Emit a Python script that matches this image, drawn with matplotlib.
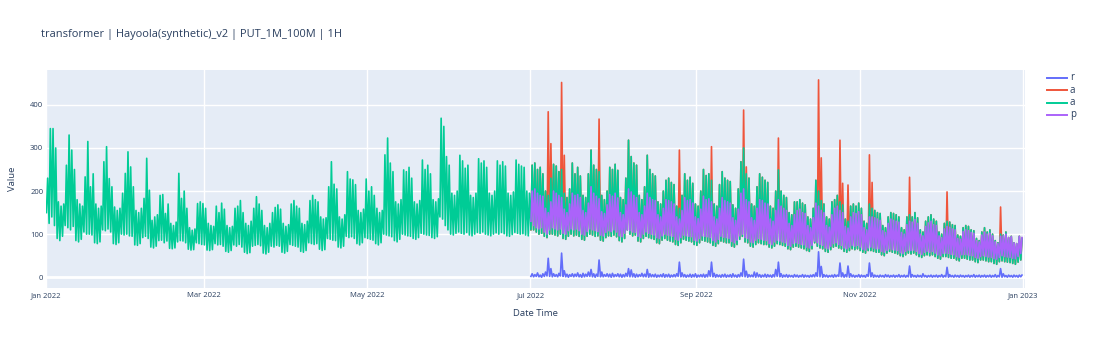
import numpy as np
import matplotlib
matplotlib.use("Agg")
import matplotlib.pyplot as plt
import matplotlib.dates as mdates
from matplotlib.lines import Line2D

# daily high / low of the series (day 0 = 2022-01-01)
actual_hi = [
    230, 345, 345, 300, 175, 165, 170,
    260, 330, 295, 250, 180, 170, 165,
    233, 315, 210, 240, 170, 160, 165,
    268, 303, 229, 210, 163, 155, 160,
    195, 241, 291, 256, 210, 155, 150,
    160, 183, 276, 202, 132, 140, 145,
    190, 192, 148, 170, 125, 120, 128,
    241, 183, 200, 160, 115, 109, 112,
    171, 175, 171, 160, 125, 120, 118,
    165, 150, 172, 158, 120, 115, 118,
    160, 165, 178, 150, 125, 120, 130,
    160, 187, 170, 155, 120, 115, 125,
    150, 162, 168, 158, 125, 118, 122,
    170, 178, 165, 160, 125, 122, 130,
    178, 190, 180, 175, 140, 135, 138,
    210, 268, 216, 205, 140, 135, 145,
    245, 228, 226, 215, 155, 150, 158,
    228, 200, 210, 190, 160, 150, 155,
    284, 323, 265, 245, 175, 170, 180,
    249, 245, 255, 230, 175, 170, 178,
    272, 250, 260, 240, 180, 175, 182,
    369, 350, 280, 260, 195, 190, 200,
    283, 270, 253, 260, 190, 185, 195,
    275, 265, 270, 255, 195, 190, 200,
    270, 260, 268, 258, 195, 190, 198,
    272, 262, 258, 255, 200, 195, 260,
    265, 250, 255, 240, 200, 190, 230,
    262, 258, 245, 250, 195, 185, 205,
    265, 240, 255, 235, 190, 185, 240,
    295, 260, 250, 245, 190, 180, 200,
    255, 250, 262, 248, 185, 180, 230,
    318, 280, 265, 260, 190, 180, 210,
    283, 250, 240, 235, 175, 170, 200,
    225, 230, 220, 215, 165, 160, 190,
    240, 225, 232, 218, 170, 165, 200,
    250, 236, 240, 225, 170, 165, 215,
    245, 230, 225, 222, 168, 160, 205,
    268, 300, 240, 230, 170, 165, 210,
    240, 232, 225, 220, 165, 160, 200,
    249, 200, 190, 185, 150, 145, 175,
    175, 180, 172, 168, 140, 135, 160,
    225, 200, 178, 170, 140, 135, 175,
    180, 190, 175, 168, 135, 130, 165,
    170, 165, 172, 160, 130, 125, 170,
    160, 155, 150, 148, 120, 115, 140,
    150, 148, 145, 140, 115, 110, 140,
    145, 140, 150, 138, 110, 105, 130,
    140, 145, 135, 130, 105, 100, 125,
    130, 128, 122, 120, 98, 95, 115,
    120, 118, 110, 108, 90, 85, 105,
    115, 105, 110, 100, 85, 80, 100,
    98, 105, 92, 95, 80, 78, 95,
    90,
]
actual_lo = [
    150, 125, 140, 120, 90, 85, 95,
    120, 115, 110, 118, 85, 82, 88,
    105, 100, 100, 98, 80, 78, 82,
    110, 108, 112, 105, 78, 76, 80,
    100, 98, 100, 96, 95, 75, 74,
    78, 92, 95, 90, 70, 68, 72,
    85, 86, 80, 84, 67, 66, 68,
    82, 85, 84, 80, 65, 63, 64,
    80, 78, 76, 75, 63, 62, 64,
    78, 75, 76, 72, 60, 58, 62,
    75, 72, 76, 70, 58, 55, 57,
    72, 74, 76, 73, 56, 54, 58,
    72, 70, 74, 72, 58, 56, 60,
    76, 74, 72, 70, 60, 58, 62,
    80, 78, 76, 78, 65, 62, 64,
    90, 88, 86, 85, 70, 68, 72,
    95, 92, 94, 90, 78, 75, 80,
    92, 90, 88, 86, 78, 75, 80,
    100, 98, 96, 94, 85, 82, 88,
    100, 98, 96, 95, 90, 88, 92,
    102, 100, 98, 97, 92, 90, 94,
    140, 135, 120, 110, 100, 98, 102,
    105, 102, 100, 104, 98, 96, 100,
    104, 102, 105, 100, 98, 96, 100,
    103, 100, 104, 101, 96, 95, 99,
    104, 102, 100, 101, 98, 96, 110,
    110, 105, 100, 102, 95, 92, 100,
    100, 98, 96, 100, 90, 88, 95,
    100, 96, 98, 95, 88, 86, 95,
    100, 98, 95, 96, 86, 84, 92,
    96, 95, 98, 94, 85, 82, 90,
    110, 100, 96, 98, 84, 82, 90,
    95, 92, 90, 88, 80, 78, 86,
    90, 86, 84, 82, 76, 74, 80,
    88, 86, 84, 82, 76, 74, 80,
    86, 84, 82, 80, 74, 72, 78,
    84, 82, 80, 80, 72, 70, 76,
    88, 95, 82, 80, 72, 70, 76,
    80, 78, 76, 76, 70, 68, 72,
    78, 76, 74, 72, 66, 64, 70,
    72, 70, 68, 66, 62, 60, 66,
    80, 72, 68, 66, 60, 58, 64,
    70, 72, 68, 66, 60, 58, 62,
    66, 64, 66, 62, 58, 56, 62,
    62, 60, 58, 58, 52, 50, 56,
    60, 58, 56, 54, 50, 48, 52,
    56, 54, 56, 52, 48, 46, 50,
    52, 50, 52, 48, 44, 42, 48,
    48, 46, 44, 44, 40, 38, 44,
    44, 42, 40, 40, 36, 34, 40,
    40, 38, 36, 36, 32, 30, 36,
    38, 36, 35, 34, 32, 30, 35,
    40,
]

# forecast window starts 2022-07-01 (day 181)
fc_start = 181
pred_hi = [
    200,
    205, 195, 190, 188, 160, 150, 175,
    200, 195, 190, 185, 158, 150, 170,
    195, 190, 192, 185, 155, 150, 172,
    210, 195, 188, 182, 152, 148, 168,
    192, 188, 195, 184, 150, 145, 168,
    205, 198, 190, 185, 150, 145, 165,
    195, 185, 180, 178, 145, 140, 160,
    180, 178, 175, 170, 140, 135, 155,
    185, 178, 180, 172, 140, 136, 158,
    188, 180, 182, 175, 140, 135, 160,
    185, 178, 175, 172, 138, 132, 158,
    195, 205, 180, 175, 138, 132, 160,
    180, 178, 172, 170, 135, 130, 155,
    180, 165, 160, 155, 125, 120, 145,
    155, 158, 150, 148, 120, 115, 138,
    172, 165, 155, 150, 120, 116, 145,
    160, 165, 155, 150, 118, 114, 140,
    150, 148, 152, 145, 115, 110, 140,
    140, 138, 135, 132, 108, 104, 125,
    135, 132, 130, 128, 104, 100, 122,
    130, 128, 134, 125, 100, 96, 118,
    126, 130, 122, 120, 96, 92, 112,
    118, 116, 112, 110, 90, 88, 106,
    110, 108, 104, 102, 85, 82, 98,
    105, 100, 102, 96, 82, 78, 95,
    96, 100, 92, 94, 80, 78, 95,
    92,
]
pred_lo = [
    130,
    120, 115, 112, 115, 105, 100, 110,
    115, 112, 110, 112, 102, 100, 108,
    112, 110, 112, 108, 100, 98, 106,
    112, 110, 108, 106, 98, 96, 104,
    108, 106, 110, 105, 96, 94, 102,
    110, 108, 105, 104, 95, 92, 100,
    105, 102, 100, 98, 92, 90, 96,
    100, 98, 96, 95, 88, 86, 92,
    98, 96, 95, 94, 86, 84, 90,
    96, 95, 94, 92, 85, 82, 88,
    95, 93, 92, 90, 83, 80, 86,
    96, 100, 92, 90, 82, 80, 86,
    90, 88, 86, 85, 78, 76, 82,
    86, 84, 82, 80, 74, 72, 78,
    80, 78, 76, 75, 70, 68, 74,
    84, 80, 76, 74, 68, 66, 72,
    78, 80, 76, 74, 68, 66, 70,
    74, 72, 74, 70, 65, 63, 68,
    70, 68, 66, 66, 60, 58, 62,
    66, 64, 63, 62, 57, 55, 60,
    63, 62, 63, 60, 55, 53, 58,
    60, 58, 60, 56, 52, 50, 55,
    56, 55, 53, 52, 48, 46, 52,
    53, 52, 50, 50, 46, 44, 48,
    50, 48, 47, 46, 43, 42, 46,
    50, 48, 47, 46, 44, 43, 48,
    55,
]
resid_hi = [
    8,
    6, 10, 5, 8, 12, 44, 20,
    8, 6, 9, 56, 15, 7, 6,
    8, 7, 10, 6, 9, 7, 12,
    18, 8, 7, 40, 12, 6, 8,
    7, 9, 6, 8, 7, 6, 9,
    20, 17, 8, 7, 6, 9, 7,
    18, 8, 6, 7, 5, 6, 8,
    6, 7, 5, 6, 8, 35, 10,
    6, 5, 7, 6, 8, 5, 6,
    7, 6, 15, 35, 9, 6, 5,
    6, 7, 5, 6, 8, 5, 6,
    10, 42, 14, 6, 5, 12, 10,
    6, 5, 7, 6, 5, 6, 18,
    35, 8, 5, 6, 5, 4, 6,
    5, 4, 6, 5, 4, 5, 6,
    10, 59, 25, 6, 5, 4, 5,
    6, 5, 33, 10, 6, 26, 8,
    5, 4, 6, 5, 4, 6, 33,
    10, 5, 4, 5, 4, 6, 5,
    4, 5, 4, 6, 4, 5, 4,
    26, 6, 4, 5, 4, 8, 4,
    4, 5, 4, 5, 4, 6, 4,
    23, 6, 4, 5, 4, 5, 4,
    4, 5, 4, 6, 4, 5, 4,
    5, 4, 5, 4, 6, 4, 20,
    8, 4, 5, 4, 5, 4, 5,
    5,
]
resid_lo = [
    2,
    1, 2, 1, 0, 2, 3, 2,
    1, 2, 1, 3, 2, 1, 0,
    2, 1, 2, 1, 0, 1, 2,
    2, 1, 0, 2, 1, 1, 2,
    1, 0, 1, 2, 1, 0, 1,
    2, 1, 1, 0, 1, 2, 1,
    1, 0, 1, 1, 0, 1, 1,
    0, 1, 0, 1, 1, 2, 1,
    1, 0, 1, 0, 1, 0, 1,
    1, 0, 1, 2, 1, 0, 1,
    0, 1, 0, 1, 0, 1, 0,
    1, 2, 1, 0, 1, 1, 0,
    1, 0, 1, 0, 1, 0, 1,
    2, 1, 0, 1, 0, 1, 0,
    1, 0, 1, 0, 1, 0, 1,
    1, 2, 1, 0, 1, 0, 1,
    0, 1, 2, 1, 0, 1, 0,
    1, 0, 1, 0, 1, 0, 2,
    1, 0, 1, 0, 1, 0, 1,
    0, 1, 0, 1, 0, 1, 0,
    1, 0, 1, 0, 1, 0, 1,
    0, 1, 0, 1, 0, 1, 0,
    1, 0, 1, 0, 1, 0, 1,
    0, 1, 0, 1, 0, 1, 0,
    1, 0, 1, 0, 1, 0, 1,
    0, 1, 0, 1, 0, 1, 0,
    1,
]

# injected anomalies (day index, peak value)
anom_days = [187, 188, 192, 193, 206, 236, 248, 260, 261, 273, 288, 289,
             296, 297, 299, 307, 308, 322, 336, 356]
anom_peaks = [384, 310, 452, 283, 367, 295, 303, 388, 256, 323, 458, 277,
              318, 218, 214, 284, 220, 232, 198, 163]

# legend names are cut to one letter in the original
names = ["r", "a", "a", "p"]
colors = ["#636EFA", "#EF553B", "#00CC96", "#AB63FA"]
title = "transformer | Hayoola(synthetic)_v2 | PUT_1M_100M | 1H"

t0 = np.datetime64("2022-01-01T00:00")


def zigzag(first_day, hi, lo):
    # one trough and one peak per day
    n = len(hi)
    days = first_day + np.arange(n)
    mins = np.empty(2 * n)
    mins[0::2] = days * 1440 + 4 * 60
    mins[1::2] = days * 1440 + 15 * 60
    v = np.empty(2 * n)
    v[0::2] = lo
    v[1::2] = hi
    x = t0 + mins.astype(int).astype("timedelta64[m]")
    return x, v


anom_hi = list(actual_hi[fc_start:])
for d, p in zip(anom_days, anom_peaks):
    anom_hi[d - fc_start] = p
anom_lo = actual_lo[fc_start:]

series = [
    zigzag(fc_start, resid_hi, resid_lo),
    zigzag(fc_start, anom_hi, anom_lo),
    zigzag(0, actual_hi, actual_lo),
    zigzag(fc_start, pred_hi, pred_lo),
]

plt.rcParams["font.family"] = ["Open Sans", "DejaVu Sans"]
txt = "#2a3f5f"

W, H = 1096, 355
fig = plt.figure(figsize=(W / 100, H / 100), dpi=100)
ax = fig.add_axes([46 / W, 1 - 288 / H, 979 / W, 218 / H])
ax.set_facecolor("#E5ECF6")
for s in ax.spines.values():
    s.set_visible(False)

for (x, v), c in zip(series, colors):
    ax.plot(x, v, color=c, lw=1.2, zorder=3)

ax.set_ylim(-25, 481)
ax.set_xlim(t0, np.datetime64("2023-01-01T18:00"))
ax.set_yticks([0, 100, 200, 300, 400])
ax.xaxis.set_major_locator(mdates.MonthLocator(bymonth=[1, 3, 5, 7, 9, 11]))
ax.xaxis.set_major_formatter(mdates.DateFormatter("%b %Y"))
ax.grid(True, color="white", lw=1, zorder=0)
ax.axhline(0, color="white", lw=2, zorder=1)
ax.set_axisbelow(True)
ax.tick_params(length=0, labelsize=5.5, colors=txt, pad=3)
ax.tick_params(axis="y", pad=2)
ax.set_xlabel("Date Time", fontsize=6.8, color=txt, labelpad=7)
ax.set_ylabel("Value", fontsize=6.8, color=txt, labelpad=9)

fig.text(41 / W, 1 - 34 / H, title, fontsize=7.9, color=txt, va="center")

for i, (name, c) in enumerate(zip(names, colors)):
    y = 1 - (78 + i * 12.3) / H
    fig.add_artist(Line2D([1047 / W, 1067 / W], [y, y], color=c, lw=1.4))
    fig.text(1070 / W, y, name, fontsize=7, color=txt, va="center")

fig.savefig("out.png", dpi=100)
